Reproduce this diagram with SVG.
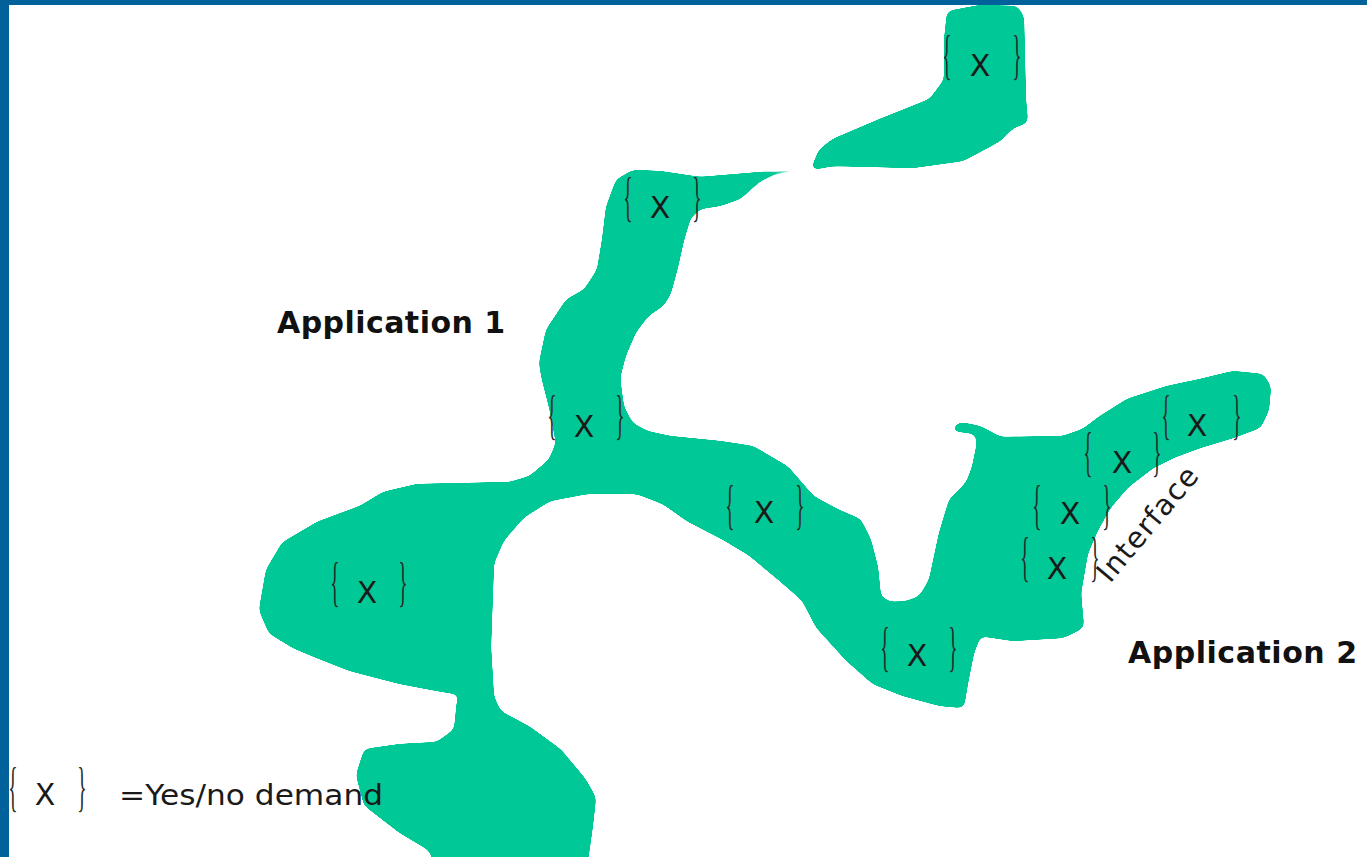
<svg xmlns="http://www.w3.org/2000/svg" width="1367" height="857" viewBox="0 0 1367 857">
<style>
.blob{fill:#00C896;stroke:#00C896;stroke-width:2;stroke-linejoin:round}
.x{font-family:"DejaVu Sans","Liberation Sans",sans-serif;font-size:30px;fill:#1a1a1a;text-anchor:middle}
.br{font-family:"Liberation Serif",serif;font-size:54px;fill:#2a2a2a;text-anchor:middle}
.app{font-family:"DejaVu Sans","Liberation Sans",sans-serif;font-size:30px;font-weight:bold;fill:#111}
.lbl{font-family:"DejaVu Sans","Liberation Sans",sans-serif;font-size:29px;fill:#1a1a1a}
</style>
<defs>
<filter id="smooth" x="-5%" y="-5%" width="110%" height="110%">
<feGaussianBlur stdDeviation="3.5"/>
<feComponentTransfer><feFuncA type="linear" slope="24" intercept="-11"/></feComponentTransfer>
</filter>
</defs>
<rect x="0" y="0" width="1367" height="857" fill="#ffffff"/>

<g id="blob" filter="url(#smooth)">
<path class="blob" d="M617,180 L633,171 L660,172 L700,178 L772,172 L806,168 L806,170 L772,175 L760,180 L740,198 L720,205 L700,208 L690,217 L683,240 L677,267 L670,293 L663,305 L648,315 L635,332 L625,355 L619,378 L623,407 L632,424 L647,432 L670,437 L720,442 L753,447 L787,467 L813,497 L837,510 L860,520 L870,540 L877,567 L880,597 L890,603 L907,602 L920,597 L930,580 L940,533 L950,500 L967,483 L973,467 L978,443 L976,433 L952,430 L960,423 L980,427 L1000,438 L1063,437 L1083,430 L1100,417 L1127,400 L1167,387 L1200,380 L1233,372 L1263,375 L1270,387 L1268,410 L1260,427 L1233,437 L1200,447 L1173,457 L1153,467 L1127,487 L1110,507 L1097,530 L1087,553 L1080,593 L1083,627 L1077,630 L1063,637 L1013,640 L980,635 L973,653 L967,683 L963,707 L940,705 L903,695 L873,683 L847,660 L817,627 L803,600 L780,580 L750,555 L720,537 L687,520 L663,503 L637,493 L587,493 L550,500 L523,517 L503,540 L493,563 L490,647 L493,697 L500,712 L530,728 L560,750 L585,780 L595,798 L592,825 L585,875 L440,875 L430,850 L400,832 L365,805 L357,775 L365,750 L400,745 L437,743 L455,730 L458,700 L462,694 L455,693 L437,690 L400,683 L350,670 L317,657 L293,647 L270,633 L260,610 L267,570 L283,543 L317,523 L360,507 L383,493 L417,485 L510,483 L530,477 L550,460 L557,443 L550,407 L543,380 L540,363 L547,330 L567,300 L585,290 L598,270 L603,240 L607,207 Z"/>
<path class="blob" d="M948,12 L980,6 L1017,7 L1023,17 L1024,60 L1025,100 L1027,122 L1013,127 L1000,140 L963,160 L913,167 L833,165 L812,169 L820,150 L833,140 L880,120 L930,100 L945,80 L945,40 Z"/>
</g>

<rect x="0" y="0" width="1367" height="5" fill="#00619B"/>
<rect x="0" y="0" width="9" height="857" fill="#00619B"/>

<g id="n1"><text class="br" transform="translate(947,73) scale(0.36,1)">{</text><text class="x" x="980" y="76">X</text><text class="br" transform="translate(1017,73) scale(0.36,1)">}</text></g>
<g id="n2"><text class="br" transform="translate(628,215) scale(0.36,1)">{</text><text class="x" x="660" y="218">X</text><text class="br" transform="translate(697,215) scale(0.36,1)">}</text></g>
<g id="n3"><text class="br" transform="translate(552,433) scale(0.36,1)">{</text><text class="x" x="584" y="437">X</text><text class="br" transform="translate(620,433) scale(0.36,1)">}</text></g>
<g id="n4"><text class="br" transform="translate(335,600) scale(0.36,1)">{</text><text class="x" x="367" y="603">X</text><text class="br" transform="translate(403,600) scale(0.36,1)">}</text></g>
<g id="n5"><text class="br" transform="translate(730,523) scale(0.36,1)">{</text><text class="x" x="764" y="523">X</text><text class="br" transform="translate(800,523) scale(0.36,1)">}</text></g>
<g id="n6"><text class="br" transform="translate(885,665) scale(0.36,1)">{</text><text class="x" x="917" y="666">X</text><text class="br" transform="translate(953,665) scale(0.36,1)">}</text></g>
<g id="n7"><text class="br" transform="translate(1166,433) scale(0.36,1)">{</text><text class="x" x="1197" y="436">X</text><text class="br" transform="translate(1237,433) scale(0.36,1)">}</text></g>
<g id="n8"><text class="br" transform="translate(1088,470) scale(0.36,1)">{</text><text class="x" x="1122" y="473">X</text><text class="br" transform="translate(1157,470) scale(0.36,1)">}</text></g>
<g id="n9"><text class="br" transform="translate(1037,523) scale(0.36,1)">{</text><text class="x" x="1070" y="524">X</text><text class="br" transform="translate(1107,523) scale(0.36,1)">}</text></g>
<g id="n10"><text class="br" transform="translate(1025,575) scale(0.36,1)">{</text><text class="x" x="1057" y="579">X</text><text class="br" transform="translate(1095,575) scale(0.36,1)">}</text></g>

<g id="app1"><text class="app" x="277" y="333" textLength="228" lengthAdjust="spacing">Application 1</text></g>
<g id="app2"><text class="app" x="1128" y="663" textLength="229" lengthAdjust="spacing">Application 2</text></g>
<g id="interface"><text class="lbl" transform="translate(1110,584) rotate(-50)" textLength="140" lengthAdjust="spacing">Interface</text></g>

<g id="legend">
<text class="br" transform="translate(13,805) scale(0.36,1)">{</text><text class="x" x="45" y="805">X</text><text class="br" transform="translate(82,805) scale(0.36,1)">}</text>
<text class="lbl" x="119" y="805" font-size="30" textLength="264" lengthAdjust="spacingAndGlyphs">=Yes/no demand</text>
</g>
</svg>
